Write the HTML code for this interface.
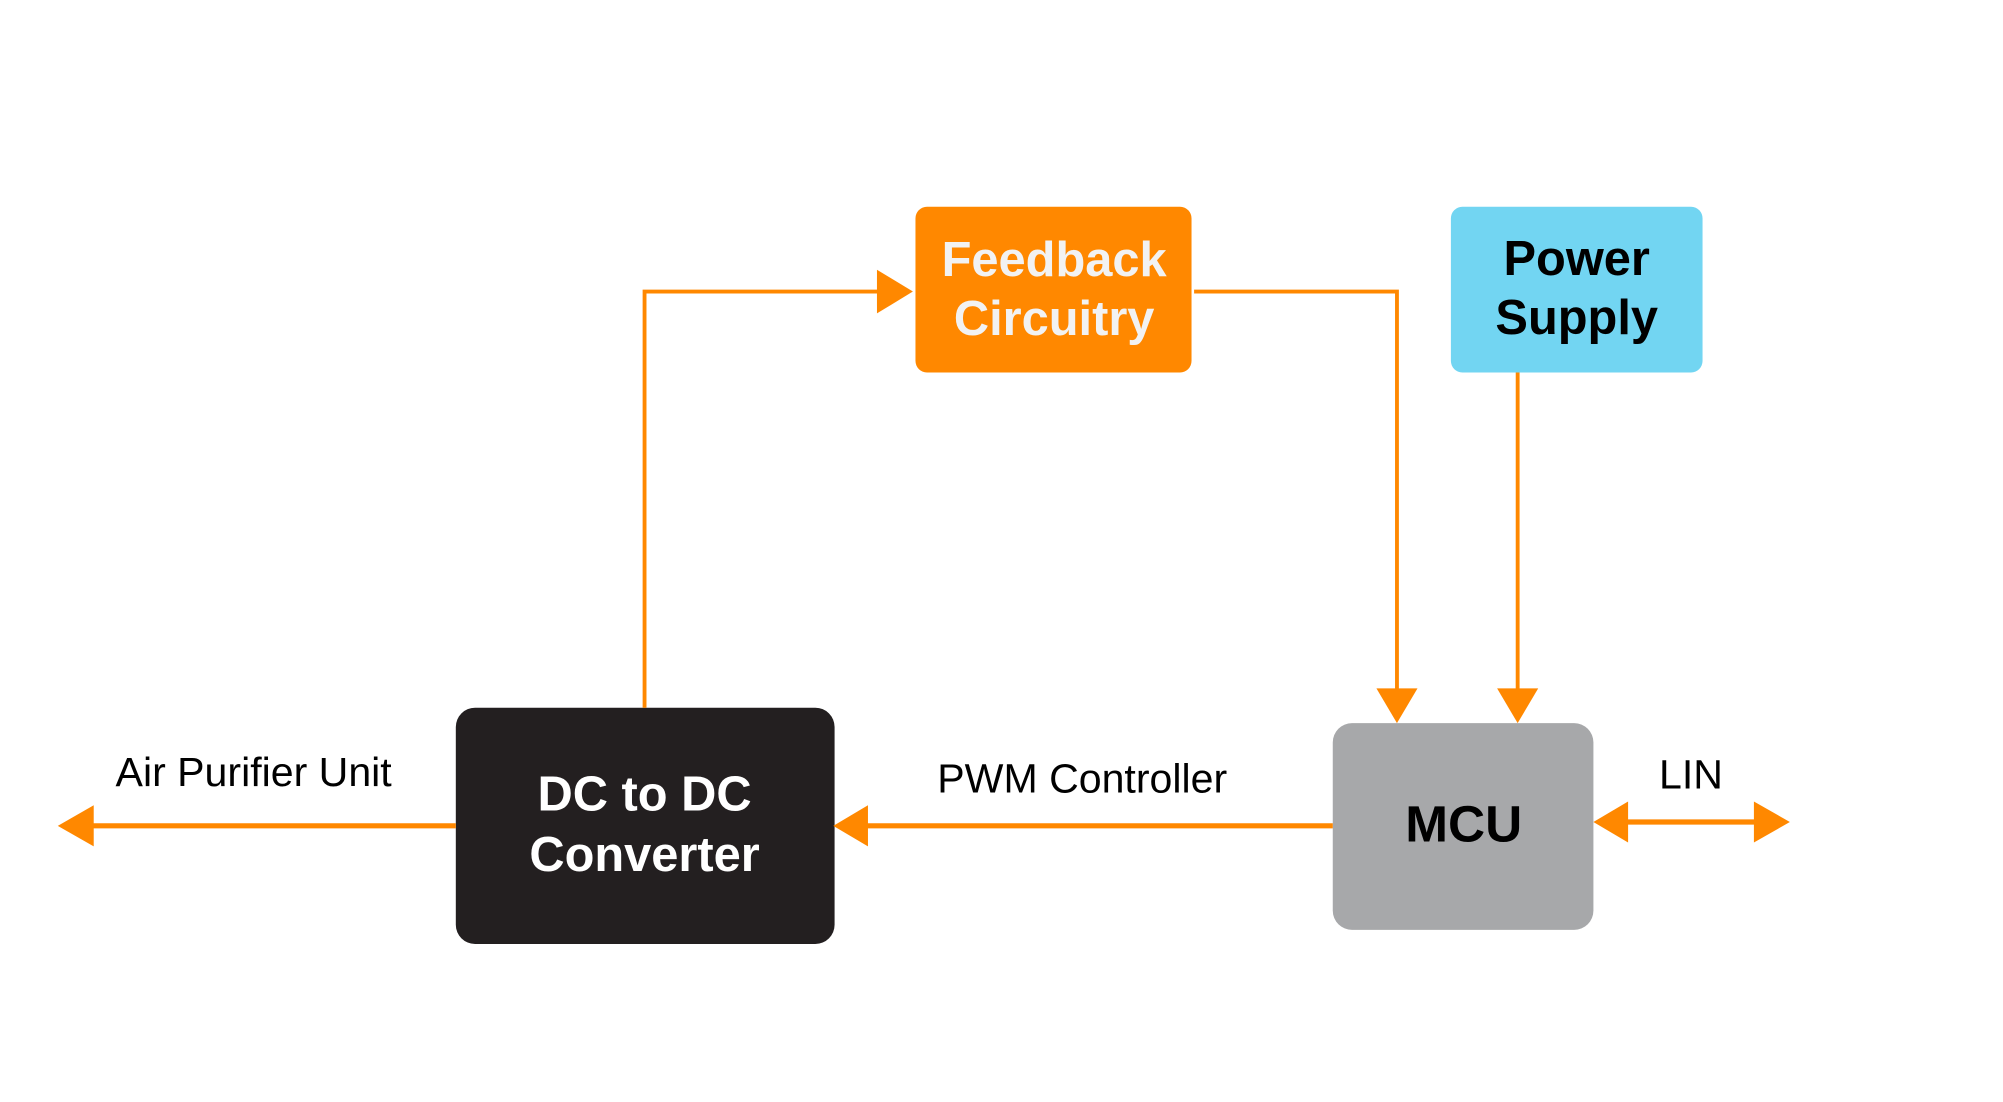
<!DOCTYPE html>
<html><head><meta charset="utf-8"><style>
html,body{margin:0;padding:0;background:#fff;}
svg{display:block;}
text{font-family:"Liberation Sans",Arial,sans-serif;}
</style></head><body>
<svg width="2003" height="1102" viewBox="0 0 1560 858" preserveAspectRatio="none" xmlns="http://www.w3.org/2000/svg">
<rect width="1560" height="858" fill="#fff"/>
<!-- boxes -->
<rect x="713" y="161" width="215" height="129" rx="9" fill="#FF8800"/>
<rect x="1130" y="161" width="196" height="129" rx="9" fill="#72D5F2"/>
<rect x="355" y="551" width="295" height="184" rx="15" fill="#231F20"/>
<rect x="1038" y="563" width="203" height="161" rx="15" fill="#A7A8AA"/>
<!-- connectors -->
<g stroke="#FF8800" fill="none">
<polyline points="502,551 502,227 685,227" stroke-width="3"/>
<polyline points="930,227 1088,227 1088,538" stroke-width="3"/>
<line x1="1182" y1="290" x2="1182" y2="538" stroke-width="3"/>
<line x1="1038" y1="643" x2="674" y2="643" stroke-width="4"/>
<line x1="355" y1="643" x2="72" y2="643" stroke-width="4"/>
<line x1="1266" y1="640" x2="1368" y2="640" stroke-width="4"/>
</g>
<g fill="#FF8800">
<polygon points="711,227 683,210 683,244"/>
<polygon points="1088,563 1072,536 1104,536"/>
<polygon points="1182,563 1166,536 1198,536"/>
<polygon points="649,643 676,627 676,659"/>
<polygon points="45,643 73,627 73,659"/>
<polygon points="1241,640 1268,624 1268,656"/>
<polygon points="1394,640 1366,624 1366,656"/>
</g>
<!-- labels -->
<g font-weight="bold" font-size="38" text-anchor="middle">
<text x="821" y="215" fill="#F2F2F2">Feedback</text>
<text x="821" y="261" fill="#F2F2F2">Circuitry</text>
<text x="1228" y="214" fill="#000">Power</text>
<text x="1228" y="260" fill="#000">Supply</text>
<text x="502" y="631" fill="#fff">DC to DC</text>
<text x="502" y="678" fill="#fff">Converter</text>
<text x="1140" y="655" fill="#000" font-size="40">MCU</text>
</g>
<g font-size="32" fill="#000">
<text x="90" y="612">Air Purifier Unit</text>
<text x="730" y="617">PWM Controller</text>
<text x="1317" y="614" text-anchor="middle">LIN</text>
</g>
</svg>
</body></html>
